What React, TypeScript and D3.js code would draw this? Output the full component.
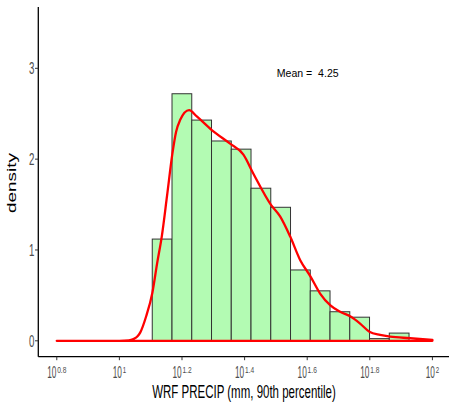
import React from "react";
import * as d3 from "d3";

// ---- data (x values in log10 of mm) ----
const binStartLog10 = 1.105;
const binWidthLog10 = 0.0631;
const binDensity = [1.12, 2.72, 2.43, 2.2, 2.11, 1.68, 1.47, 0.78, 0.55, 0.32, 0.26, 0.024, 0.085];

const curveLog10 = [
  0.8, 0.9, 1.0, 1.03, 1.045, 1.058, 1.0664, 1.0856, 1.1054, 1.1204, 1.1355, 1.1524, 1.1693, 1.181,
  1.1939, 1.2227, 1.2473, 1.2952, 1.3537, 1.3962, 1.4281, 1.4837, 1.5134, 1.5454, 1.5773, 1.6102,
  1.6412, 1.6741, 1.7051, 1.7371, 1.769, 1.7987, 1.8329, 1.8649, 1.9288, 2.0,
];
const curveDensity = [
  0, 0, 0, 0.005, 0.02, 0.05, 0.09, 0.27, 0.53, 0.85, 1.15, 1.6, 2.06, 2.3,
  2.43, 2.54, 2.47, 2.32, 2.17, 2.05, 1.84, 1.5, 1.37, 1.15, 0.89, 0.71,
  0.52, 0.39, 0.32, 0.27, 0.19, 0.1, 0.065, 0.046, 0.029, 0.01,
];

const xTickExp = ["0.8", "1", "1.2", "1.4", "1.6", "1.8", "2"];
const yTicks = [0, 1, 2, 3];
const meanLabel = "Mean =  4.25";
const xTitle = "WRF PRECIP (mm, 90th percentile)";
const yTitle = "density";

const FONT = "Liberation Sans";
let ctx: CanvasRenderingContext2D | null = null;
function measure(text: string, size: number): number {
  if (!ctx) ctx = document.createElement("canvas").getContext("2d");
  if (!ctx) return text.length * size * 0.55;
  ctx.font = `${size}px "${FONT}"`;
  return ctx.measureText(text).width;
}

// text squeezed horizontally to a target width (kept as real text)
function Squeezed(props: {
  text: string;
  x: number;
  y: number;
  size: number;
  width: number;
  anchor?: "start" | "middle" | "end";
  fill?: string;
  rotate?: number;
}) {
  const nat = measure(props.text, props.size);
  const sx = props.width / nat;
  const rot = props.rotate ? ` rotate(${props.rotate})` : "";
  return (
    <text
      transform={`translate(${props.x},${props.y})${rot} scale(${sx},1)`}
      fontSize={props.size}
      textAnchor={props.anchor || "start"}
      fill={props.fill || "#000"}
      style={{ whiteSpace: "pre" }}
    >
      {props.text}
    </text>
  );
}

export default function App() {
  const W = 449;
  const H = 402;
  const x = d3.scaleLog().domain([Math.pow(10, 0.74), Math.pow(10, 2.06)]).range([38, 451.2]);
  const y = d3.scaleLinear().domain([-0.175, 3.675]).range([356.7, 7]);
  const px = (l: number) => x(Math.pow(10, l));

  const pts: [number, number][] = curveLog10.map((l, i) => [px(l), y(curveDensity[i])]);
  const line = d3.line().curve(d3.curveMonotoneX);
  const curvePath =
    line(pts) + `L${px(curveLog10[curveLog10.length - 1])},${y(0)}L${px(curveLog10[0])},${y(0)}Z`;

  const axisY = 356.7;
  const axisX = 38.3;

  return (
    <svg
      width={W}
      height={H}
      style={{ position: "absolute", left: 0, top: 0, background: "#fff" }}
      fontFamily={`'${FONT}', Arial, sans-serif`}
    >
      <rect x={0} y={0} width={W} height={H} fill="#fff" />
      {binDensity.map((d, i) => {
        const l0 = binStartLog10 + i * binWidthLog10;
        const l1 = l0 + binWidthLog10;
        const x0 = px(l0);
        const x1 = px(l1);
        return (
          <rect
            key={i}
            x={x0}
            y={y(d)}
            width={x1 - x0}
            height={y(0) - y(d)}
            fill="#b3fbb3"
            stroke="#333"
            strokeWidth={1}
          />
        );
      })}
      <path d={curvePath} fill="none" stroke="#ff0000" strokeWidth={2.3} strokeLinejoin="round" />

      {/* axes */}
      <line x1={axisX} x2={axisX} y1={7} y2={axisY} stroke="#000" strokeWidth={1.3} />
      <line x1={axisX} x2={W} y1={axisY} y2={axisY} stroke="#000" strokeWidth={1.3} />

      {yTicks.map((t) => (
        <g key={t}>
          <line x1={35} x2={axisX} y1={y(t)} y2={y(t)} stroke="#333" strokeWidth={1} />
          <Squeezed text={String(t)} x={34.5} y={y(t) + 5.8} size={16} width={5.4} anchor="end" fill="#4d4d4d" />
        </g>
      ))}

      {xTickExp.map((e) => {
        const tx = px(parseFloat(e));
        const mainW = 9.2;
        const gap = 0.8;
        const supW = e.length === 1 ? 3.4 : 9.2;
        const left = tx - (mainW + gap + supW) / 2;
        return (
          <g key={e}>
            <line x1={tx} x2={tx} y1={axisY} y2={axisY + 3.5} stroke="#333" strokeWidth={1} />
            <Squeezed text="10" x={left} y={378.3} size={16} width={mainW} fill="#4d4d4d" />
            <Squeezed text={e} x={left + mainW + gap} y={372.5} size={9.8} width={supW} fill="#4d4d4d" />
          </g>
        );
      })}

      <Squeezed text={xTitle} x={244} y={397.6} size={17.5} width={184} anchor="middle" />
      <Squeezed text={yTitle} x={16.2} y={183} size={12.5} width={60} anchor="middle" rotate={-90} />
      <Squeezed text={meanLabel} x={276.7} y={76.7} size={11.7} width={62} />
    </svg>
  );
}
